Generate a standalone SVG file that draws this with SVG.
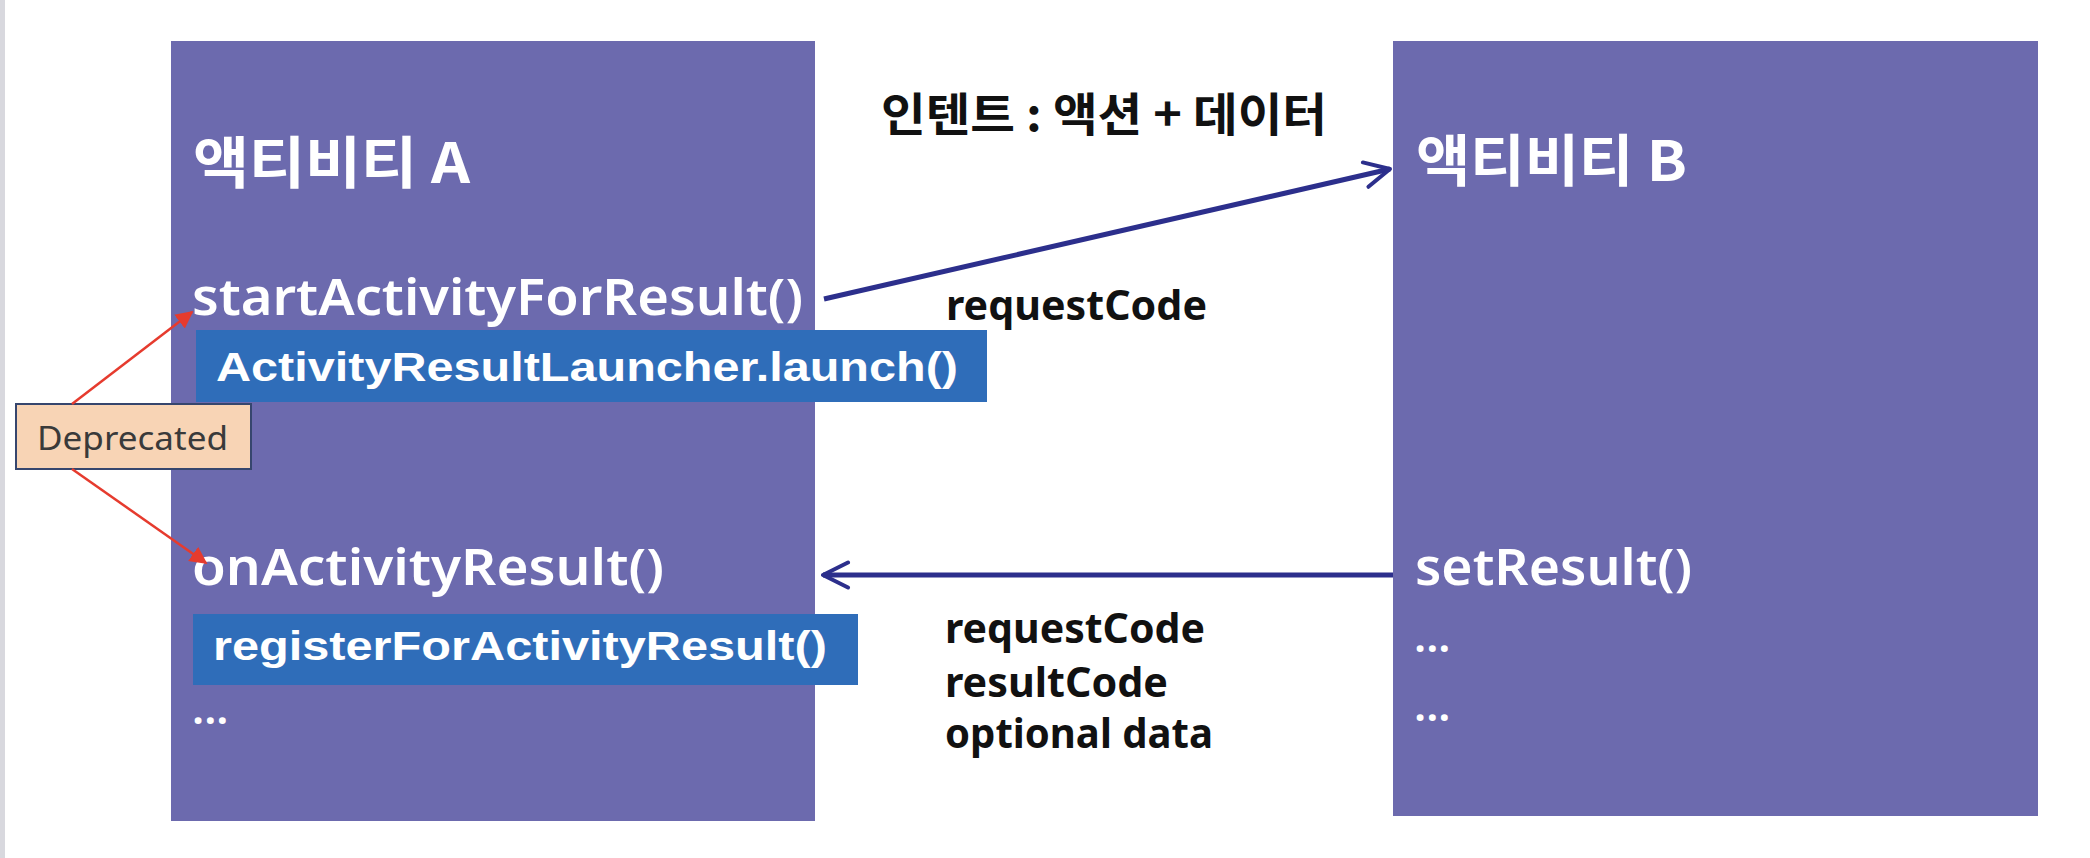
<svg xmlns="http://www.w3.org/2000/svg" width="2090" height="858" viewBox="0 0 2090 858">
  <defs>
    <style>
      .act { fill: #6c6aae; }
      .blue { fill: #2f6db9; }
      .kr { font-family: "Noto Sans CJK KR", "Noto Sans", sans-serif; }
      .wt { fill: #ffffff; }
      .lat { font-family: "Noto Sans", "Open Sans", sans-serif; font-weight: 600; }
      .ar { font-family: "Liberation Sans", Arial, sans-serif; font-weight: bold; fill: #ffffff; }
      .lbl { font-family: "Noto Sans", "Open Sans", sans-serif; font-weight: bold; fill: #111111; font-size: 42px; }
      .nav { stroke: #2c2f8c; stroke-width: 5; fill: none; }
      .red { stroke: #e63b2e; stroke-width: 2.5; fill: none; }
    </style>
    <marker id="redHead" viewBox="0 0 10 10" refX="9" refY="5" markerWidth="7" markerHeight="7" markerUnits="strokeWidth" orient="auto">
      <path d="M0,0 L10,5 L0,10 z" fill="#e63b2e"/>
    </marker>
    <marker id="navHead" viewBox="0 0 12 12" refX="11" refY="6" markerWidth="6" markerHeight="6" markerUnits="strokeWidth" orient="auto">
      <path d="M1,1 L11,6 L1,11" fill="none" stroke="#2c2f8c" stroke-width="1.6" stroke-linecap="round" stroke-linejoin="round"/>
    </marker>
  </defs>

  <rect x="0" y="0" width="2090" height="858" fill="#ffffff"/>
  <rect x="0" y="0" width="5" height="858" fill="#d8d8de"/>

  <g id="activityA">
    <rect class="act" x="171" y="41" width="644" height="780"/>
    <text class="kr wt" x="193" y="183" font-size="56" font-weight="bold" textLength="277" lengthAdjust="spacingAndGlyphs">액티비티 A</text>
    <text class="lat wt" x="192" y="315" font-size="50" textLength="611" lengthAdjust="spacingAndGlyphs">startActivityForResult()</text>
    <text class="lat wt" x="192" y="585" font-size="50" textLength="472" lengthAdjust="spacingAndGlyphs">onActivityResult()</text>
    <text class="lat wt" x="192" y="724" font-size="44" font-weight="bold">...</text>
  </g>

  <g id="launcher">
    <rect class="blue" x="196" y="330" width="791" height="72"/>
    <text class="ar" x="216" y="381" font-size="41" textLength="742" lengthAdjust="spacingAndGlyphs">ActivityResultLauncher.launch()</text>
  </g>

  <g id="register">
    <rect class="blue" x="193" y="614" width="665" height="71"/>
    <text class="ar" x="213" y="660" font-size="41" textLength="614" lengthAdjust="spacingAndGlyphs">registerForActivityResult()</text>
  </g>

  <g id="activityB">
    <rect class="act" x="1393" y="41" width="645" height="775"/>
    <text class="kr wt" x="1416" y="181" font-size="56" font-weight="bold" textLength="271" lengthAdjust="spacingAndGlyphs">액티비티 B</text>
    <text class="lat wt" x="1415" y="585" font-size="50" textLength="277" lengthAdjust="spacingAndGlyphs">setResult()</text>
    <text class="lat wt" x="1414" y="652" font-size="44" font-weight="bold">...</text>
    <text class="lat wt" x="1414" y="721" font-size="44" font-weight="bold">...</text>
  </g>

  <g id="deprecated">
    <rect x="16" y="404" width="235" height="65" fill="#f8d4b5" stroke="#36466e" stroke-width="2"/>
    <text x="37" y="450" font-family="Noto Sans, Open Sans, sans-serif" font-size="32" fill="#3a3a3a" textLength="191" lengthAdjust="spacingAndGlyphs">Deprecated</text>
  </g>

  <g id="labels">
    <text class="kr" x="881" y="131" font-size="46" font-weight="bold" fill="#111111" textLength="446" lengthAdjust="spacingAndGlyphs">인텐트 : 액션 + 데이터</text>
    <text class="lbl" x="946" y="320" textLength="261" lengthAdjust="spacingAndGlyphs">requestCode</text>
    <text class="lbl" x="945" y="643" textLength="260" lengthAdjust="spacingAndGlyphs">requestCode</text>
    <text class="lbl" x="945" y="697" textLength="223" lengthAdjust="spacingAndGlyphs">resultCode</text>
    <text class="lbl" x="945" y="748" textLength="268" lengthAdjust="spacingAndGlyphs">optional data</text>
  </g>

  <g id="connectors">
    <line class="nav" x1="824" y1="299" x2="1390" y2="169" marker-end="url(#navHead)"/>
    <line class="nav" x1="1393" y1="575" x2="823" y2="575" marker-end="url(#navHead)"/>
    <line class="red" x1="72" y1="404" x2="192" y2="312" marker-end="url(#redHead)"/>
    <line class="red" x1="72" y1="469" x2="206" y2="563" marker-end="url(#redHead)"/>
  </g>
</svg>
